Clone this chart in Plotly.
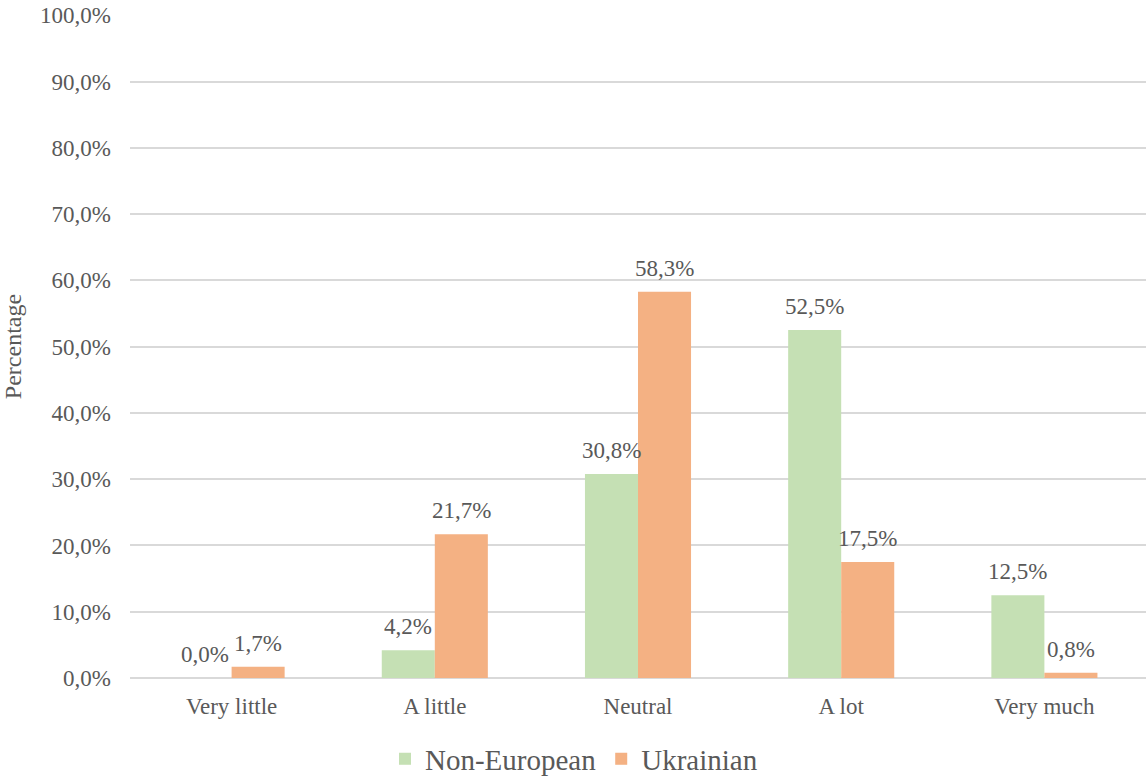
import plotly.graph_objects as go

categories = ["Very little", "A little", "Neutral", "A lot", "Very much"]
non_european = [0.0, 4.2, 30.8, 52.5, 12.5]
ukrainian = [1.7, 21.7, 58.3, 17.5, 0.8]
y_ticks = [0, 10, 20, 30, 40, 50, 60, 70, 80, 90, 100]

FONT = "Liberation Serif"
TEXT = "#595959"
GREEN = "#C5E0B4"
ORANGE = "#F4B183"


def pct(v):
    return f"{v:.1f}".replace(".", ",") + "%"


fig = go.Figure()
fig.add_trace(go.Bar(name="Non-European", x=categories, y=non_european,
                     marker=dict(color=GREEN, line=dict(width=0))))
fig.add_trace(go.Bar(name="Ukrainian", x=categories, y=ukrainian,
                     marker=dict(color=ORANGE, line=dict(width=0))))

# value labels above each bar
annotations = []
for series, shift in ((non_european, -26.5), (ukrainian, 26.5)):
    for cat, v in zip(categories, series):
        annotations.append(dict(
            x=cat, y=v, xref="x", yref="y", text=pct(v), showarrow=False,
            xshift=shift, yshift=9, yanchor="bottom",
            font=dict(family=FONT, size=23, color=TEXT)))

fig.update_layout(
    width=1148, height=776,
    margin=dict(l=130, r=2, t=15, b=98),
    paper_bgcolor="white", plot_bgcolor="white",
    barmode="group", bargap=0.478, bargroupgap=0,
    font=dict(family=FONT, size=23, color=TEXT),
    showlegend=True,
    legend=dict(orientation="h", xref="container", yref="container",
                x=0.5, xanchor="center", y=0.022, yanchor="middle",
                font=dict(family=FONT, size=29, color=TEXT),
                itemwidth=30, tracegroupgap=0),
    annotations=annotations,
    xaxis=dict(showgrid=False, showline=False, ticks="", automargin=False,
               ticklabelstandoff=12,
               tickfont=dict(family=FONT, size=23, color=TEXT)),
    yaxis=dict(range=[0, 100.05], tickvals=y_ticks, ticktext=[pct(t) for t in y_ticks],
               showgrid=True, gridcolor="#D9D9D9", gridwidth=1.5,
               zeroline=True, zerolinecolor="#D9D9D9", zerolinewidth=1.5,
               showline=False, ticks="", ticklabelstandoff=18, automargin=False,
               tickfont=dict(family=FONT, size=23, color=TEXT),
               title=dict(text="Percentage", standoff=82,
                          font=dict(family=FONT, size=24, color=TEXT))),
)

fig.write_html("out.html")
